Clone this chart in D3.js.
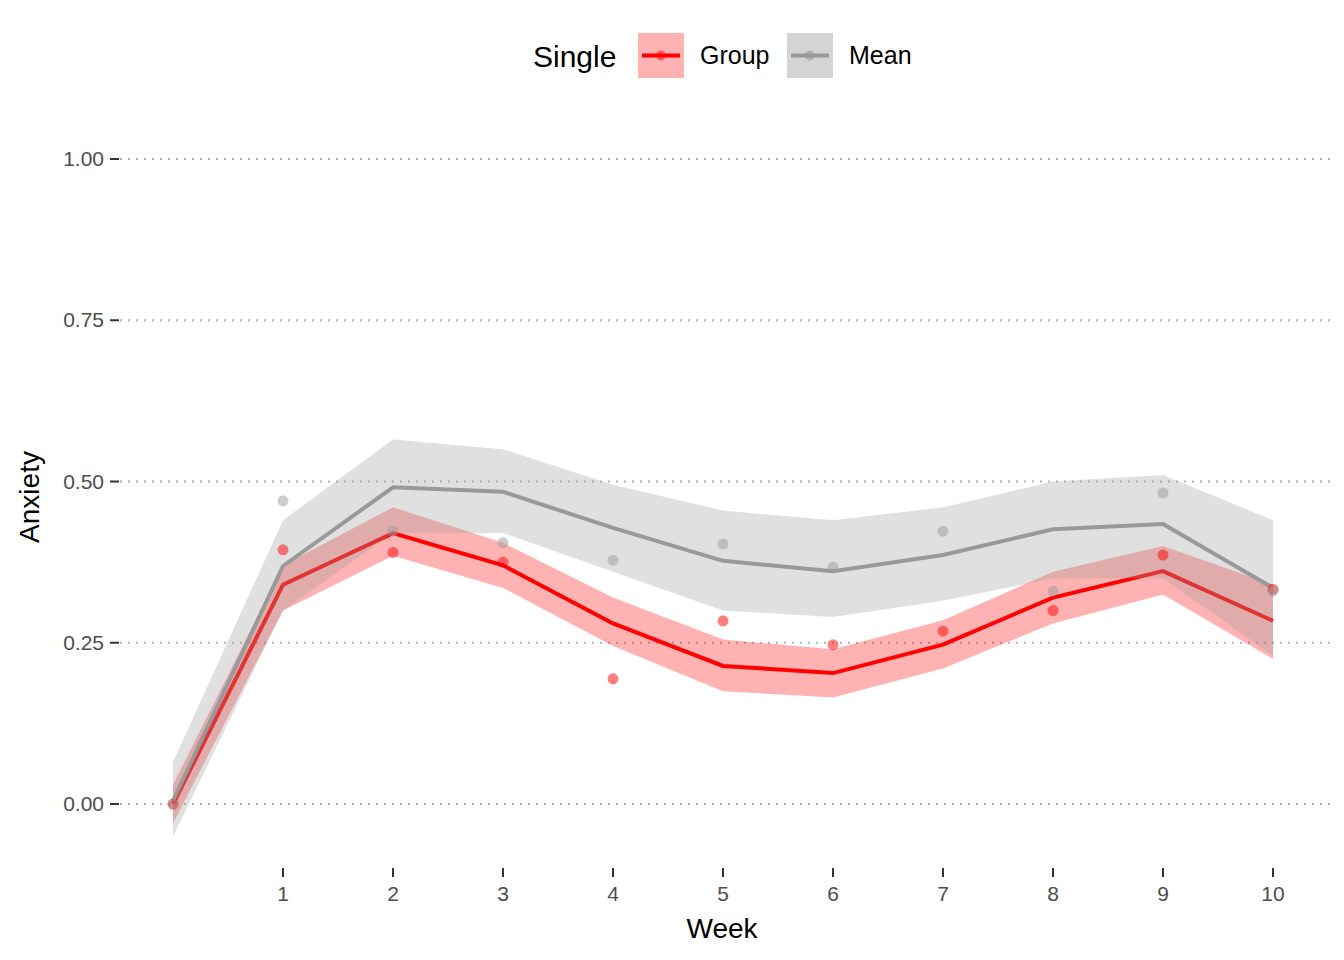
<!DOCTYPE html>
<html><head><meta charset="utf-8">
<script src="https://cdn.jsdelivr.net/npm/d3@7"></script>
<style>body{margin:0;background:#fff}text{font-family:Helvetica,Arial,"Liberation Sans",sans-serif}</style>
</head><body><svg id="c" width="1344" height="960"></svg>
<script>
var weeks = [0,1,2,3,4,5,6,7,8,9,10];
var groupLine = [0.0,0.34,0.42,0.37,0.28,0.214,0.203,0.247,0.32,0.361,0.284];
var groupLo = [-0.03,0.30,0.385,0.335,0.245,0.175,0.165,0.21,0.28,0.325,0.225];
var groupHi = [0.03,0.37,0.46,0.405,0.32,0.255,0.24,0.285,0.36,0.40,0.34];
var groupPts = [0.0,0.394,0.39,0.375,0.194,0.284,0.247,0.268,0.30,0.386,0.333];
var meanLine = [0.005,0.369,0.491,0.484,0.428,0.377,0.361,0.386,0.426,0.434,0.335];
var meanLo = [-0.05,0.30,0.42,0.42,0.36,0.30,0.29,0.315,0.35,0.35,0.23];
var meanHi = [0.065,0.44,0.565,0.55,0.495,0.455,0.44,0.46,0.50,0.51,0.44];
var meanPts = [0.0,0.47,0.423,0.405,0.378,0.403,0.367,0.423,0.33,0.482,0.33];
var yTicks = [0,0.25,0.5,0.75,1];
var xTicks = [1,2,3,4,5,6,7,8,9,10];

var svg = d3.select("#c");
var x = d3.scaleLinear().domain([0,10]).range([173,1273]);
var y = d3.scaleLinear().domain([0,1]).range([804,159]);

// grid + y axis
yTicks.forEach(function(t){
  svg.append("line").attr("x1",120).attr("x2",1330).attr("y1",y(t)).attr("y2",y(t))
    .attr("stroke","#b3b3b3").attr("stroke-width",2.2).attr("stroke-dasharray","2,6");
  svg.append("line").attr("x1",110).attr("x2",119).attr("y1",y(t)).attr("y2",y(t))
    .attr("stroke","#333").attr("stroke-width",2);
  svg.append("text").attr("x",104).attr("y",y(t)+7).attr("text-anchor","end")
    .attr("font-size",21).attr("fill","#4d4d4d").text(t.toFixed(2));
});
xTicks.forEach(function(t){
  svg.append("line").attr("x1",x(t)).attr("x2",x(t)).attr("y1",868).attr("y2",877)
    .attr("stroke","#333").attr("stroke-width",2);
  svg.append("text").attr("x",x(t)).attr("y",901).attr("text-anchor","middle")
    .attr("font-size",21).attr("fill","#4d4d4d").text(t);
});
svg.append("text").attr("x",722).attr("y",938).attr("text-anchor","middle").attr("font-size",28).text("Week");
svg.append("text").attr("transform","translate(39,497) rotate(-90)").attr("text-anchor","middle").attr("font-size",28).text("Anxiety");

var area = function(lo,hi){
  return d3.area().x(function(d){return x(d);}).y0(function(d,i){return y(lo[i]);}).y1(function(d,i){return y(hi[i]);})(weeks);
};
var line = function(v){ return d3.line().x(function(d){return x(d);}).y(function(d,i){return y(v[i]);})(weeks); };

svg.append("path").attr("d",area(groupLo,groupHi)).attr("fill","rgba(255,0,0,0.3)");
svg.append("path").attr("d",line(groupLine)).attr("fill","none").attr("stroke","#ff0000").attr("stroke-width",4);
svg.append("path").attr("d",area(meanLo,meanHi)).attr("fill","rgba(160,160,160,0.32)");
svg.append("path").attr("d",line(meanLine)).attr("fill","none").attr("stroke","#999").attr("stroke-width",4);

svg.selectAll(".gp").data(weeks).enter().append("circle").attr("cx",function(d){return x(d);})
  .attr("cy",function(d,i){return y(groupPts[i]);}).attr("r",5.5).attr("fill","rgba(255,0,0,0.5)");
svg.selectAll(".mp").data(weeks).enter().append("circle").attr("cx",function(d){return x(d);})
  .attr("cy",function(d,i){return y(meanPts[i]);}).attr("r",5.5).attr("fill","rgba(153,153,153,0.5)");

// legend
svg.append("text").attr("x",533).attr("y",67).attr("font-size",30).text("Single");
var keys = [{l:"Group",x:638,f:"rgba(255,0,0,0.3)",c:"#ff0000",p:"rgba(255,0,0,0.5)"},
            {l:"Mean",x:787,f:"rgba(160,160,160,0.45)",c:"#999",p:"rgba(153,153,153,0.6)"}];
keys.forEach(function(k){
  svg.append("rect").attr("x",k.x).attr("y",33).attr("width",46).attr("height",45).attr("fill",k.f);
  svg.append("line").attr("x1",k.x+4).attr("x2",k.x+42).attr("y1",55.5).attr("y2",55.5).attr("stroke",k.c).attr("stroke-width",4);
  svg.append("circle").attr("cx",k.x+23).attr("cy",55.5).attr("r",5).attr("fill",k.p);
  svg.append("text").attr("x",k.x+62).attr("y",64).attr("font-size",25).text(k.l);
});
</script></body></html>
